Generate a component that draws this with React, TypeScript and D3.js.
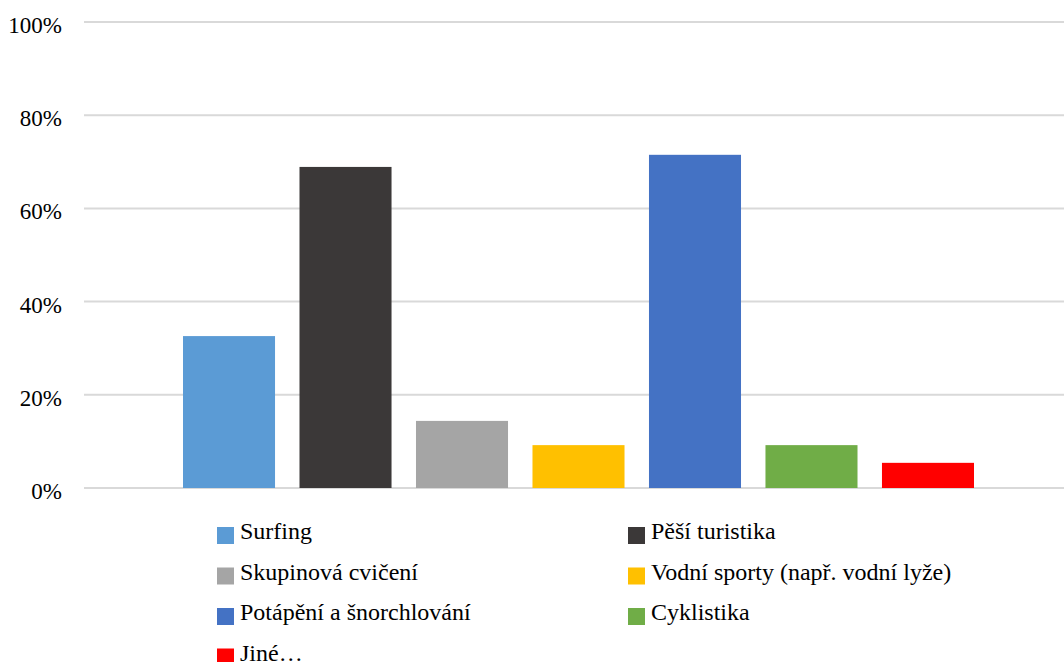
import React from "react";
import * as d3 from "d3";

const series = [
  "Surfing",
  "Pěší turistika",
  "Skupinová cvičení",
  "Vodní sporty (např. vodní lyže)",
  "Potápění a šnorchlování",
  "Cyklistika",
  "Jiné…",
];
const values = [32.6, 68.9, 14.4, 9.2, 71.5, 9.2, 5.4];
const colors = ["#5B9BD5", "#3B3838", "#A5A5A5", "#FFC000", "#4472C4", "#70AD47", "#FF0000"];
const yTicks = [0, 20, 40, 60, 80, 100];

const W = 1064;
const H = 662;
const FONT = '"Liberation Serif", "Times New Roman", Times, serif';

export default function App() {
  const y = d3.scaleLinear().domain([0, 100]).range([488, 22]);
  const x = d3.scaleBand<string>().domain(series).range([183, 974]).paddingInner(0.21).paddingOuter(0);

  const legendCols = [217, 628];
  const legendRow0 = 539;
  const legendStep = 40.5;

  return (
    <svg
      width={W}
      height={H}
      style={{ position: "absolute", left: 0, top: 0, background: "#fff", fontFamily: FONT }}
    >
      {yTicks.map((t) => (
        <g key={t}>
          <line x1={84} x2={1064} y1={y(t)} y2={y(t)} stroke="#D9D9D9" strokeWidth={2} />
          <text x={62} y={y(t) + 11} textAnchor="end" fontSize={23} fill="#000" style={{ fontFamily: FONT }}>
            {t}%
          </text>
        </g>
      ))}
      {series.map((s, i) => (
        <rect
          key={s}
          x={x(s)}
          y={y(values[i])}
          width={x.bandwidth()}
          height={y(0) - y(values[i])}
          fill={colors[i]}
        />
      ))}
      {series.map((s, i) => {
        const col = i % 2;
        const row = Math.floor(i / 2);
        const lx = legendCols[col];
        const ly = legendRow0 + row * legendStep;
        return (
          <g key={"lg" + s}>
            <rect x={lx} y={ly - 12} width={17} height={17} fill={colors[i]} />
            <text x={lx + 23} y={ly} fontSize={24} fill="#000" style={{ fontFamily: FONT }}>
              {s}
            </text>
          </g>
        );
      })}
    </svg>
  );
}
